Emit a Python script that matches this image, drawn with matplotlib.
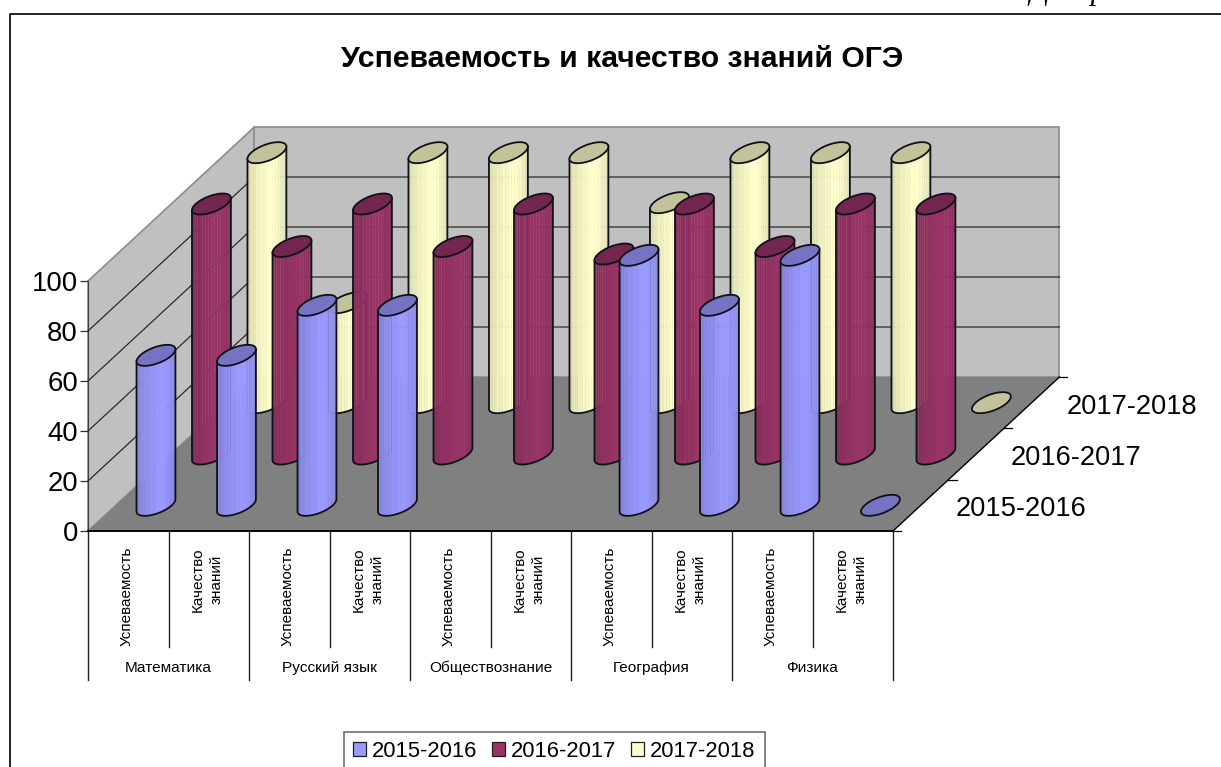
import numpy as np
import matplotlib
matplotlib.use("Agg")
import matplotlib.pyplot as plt
from matplotlib.lines import Line2D
from matplotlib.patches import Patch

plt.rcParams['font.family'] = ['Liberation Sans', 'DejaVu Sans']

# ---- data (None = no value in the sheet) ----
title = "Успеваемость и качество знаний ОГЭ"
subjects = ["Математика", "Русский язык", "Обществознание", "География", "Физика"]
measures = ["Успеваемость", "Качество\nзнаний"]
series_names = ["2015-2016", "2016-2017", "2017-2018"]
values_2015 = [60, 60, 80, 80, None, None, 100, 80, 100, 0]
values_2016 = [100, 83, 100, 83, 100, 80, 100, 83, 100, 100]
values_2017 = [100, 40, 100, 100, 100, 80, 100, 100, 100, 0]
y_ticks = [0, 20, 40, 60, 80, 100]

# ---- style ----
face = ["#9999FF", "#993366", "#FFFFCC"]
W, H = 1221, 767
L, R, T, B = 88, 893, 281, 531         # front plane of the 3-D box, in pixels
DX, DY = 0.689, 20.53                  # oblique shift per series, in data units
RA, RB = 0.196, 0.205                  # cylinder radii: along x, along depth
N = 10
SHADES = [.86, .86, .88, .88, .91, .91, .94, .94, .97, .97, 1, 1, 1, .98, .96, .93, .93, .90, .88, .86]

fig = plt.figure(figsize=(W / 100, H / 100), dpi=100, facecolor="white")
ax = fig.add_axes([L / W, (H - B) / H, (R - L) / W, (B - T) / H])
ax.set_xlim(0, N)
ax.set_ylim(0, 100)
ax.patch.set_visible(False)
for s in ["top", "right", "bottom"]:
    ax.spines[s].set_visible(False)
ax.spines["left"].set_color("#404040")
ax.set_xticks([])
ax.set_yticks(y_ticks)
ax.tick_params(axis="y", length=5.8, width=0.9, color="#303030", labelsize=19.8, pad=1.4)

BX, BY = 3 * DX, 3 * DY
K = dict(clip_on=False)

# walls and floor
ax.fill([0, BX, BX, 0], [0, BY, 100 + BY, 100], fc="#C0C0C0", ec="#8C8C8C", lw=1.2, zorder=1, **K)
ax.fill([BX, N + BX, N + BX, BX], [BY, BY, 100 + BY, 100 + BY], fc="#C0C0C0", ec="#8C8C8C", lw=1.2, zorder=1, **K)
ax.fill([0, BX, N + BX, N], [0, BY, BY, 0], fc="#808080", ec="none", zorder=2, **K)

# gridlines
for v in y_ticks[1:-1]:
    ax.plot([0, BX, N + BX], [v, v + BY, v + BY], color="#2A2A2A", lw=0.9, zorder=3, **K)

# floor edges and depth ticks
ax.plot([0, N], [0, 0], color="black", lw=1.4, zorder=4, **K)
ax.plot([N, N + BX], [0, BY], color="black", lw=1.0, zorder=4, **K)
for i in range(4):
    ax.plot([N + i * DX, N + i * DX + 0.1], [i * DY, i * DY], color="black", lw=0.9, zorder=4, **K)
for i, name in enumerate(series_names):
    ax.text(N + (i + 0.5) * DX + 0.43, (i + 0.5) * DY - 1.6, name, fontsize=19.6,
            ha="left", va="center", zorder=4, **K)


def cylinder(x, base, v, color, z):
    """One oblique cylinder, its base centred on (x, base)."""
    rgb = np.array(matplotlib.colors.to_rgb(color))
    px = lambda t: x + RA * np.cos(t) + RB * DX * np.sin(t)
    py = lambda t: RB * DY * np.sin(t)
    phi = np.arctan2(RB * DX, RA)
    if v > 0:
        n = len(SHADES)
        edges = np.linspace(phi + np.pi, phi + 2 * np.pi, n + 1)
        for k, sh in enumerate(SHADES):
            ts = np.linspace(edges[k], edges[k + 1], 5)
            xs = np.r_[px(ts), px(ts[::-1])]
            ys = np.r_[base + py(ts), base + v + py(ts[::-1])]
            ax.fill(xs, ys, fc=rgb * sh, ec=rgb * sh, lw=0.2, zorder=z, **K)
        ts = np.linspace(phi + np.pi, phi + 2 * np.pi, 60)
        xs = np.r_[px(ts[0]), px(ts), px(ts[-1])]
        ys = np.r_[base + v + py(ts[0]), base + py(ts), base + v + py(ts[-1])]
        ax.plot(xs, ys, color="#101018", lw=1.3, zorder=z + .1, **K)
    ts = np.linspace(0, 2 * np.pi, 80)
    ax.fill(px(ts), base + v + py(ts), fc=rgb * 0.76, ec="#101018", lw=1.3, zorder=z + .2, **K)


all_values = [values_2015, values_2016, values_2017]
for i in [2, 1, 0]:
    for j, v in enumerate(all_values[i]):
        if v is None:
            continue
        cylinder(j + 0.5 + (i + 0.5) * DX, (i + 0.5) * DY, v, face[i], 10 + (2 - i) * 20 + j)

# category axis: two-level labels
for j in range(N + 1):
    low = -59.6 if j % 2 == 0 else -46.4
    ax.plot([j, j], [0, low], color="#202020", lw=1.0, zorder=4, **K)
for j in range(N):
    ax.text(j + 0.5 - 0.02, -6.4, measures[j % 2], rotation=90, fontsize=11, ha="center", va="top",
            multialignment="center", linespacing=1.5, zorder=4, **K)
for k, name in enumerate(subjects):
    ax.text(2 * k + 1, -54.8, name, fontsize=11.1, ha="center", va="center", zorder=4, **K)

# title, outer border, clipped caption above the chart
fig.text(622.5 / W, 1 - 59 / H, title, fontsize=21.7, fontweight="bold", ha="center", va="center")
fig.add_artist(Line2D([9.5 / W, 9.5 / W, 1], [0, 1 - 13.5 / H, 1 - 13.5 / H], color="#101010", lw=1.3))
fig.text(1029 / W, 1 + 1.5 / H, "Диаграмма", fontsize=22, style="italic", family="Liberation Serif",
         ha="left", va="baseline")

# legend
handles = [Patch(fc=c, ec="#202020", lw=0.9) for c in face]
leg = fig.legend(handles, series_names, ncol=3, fontsize=15.8, frameon=True, fancybox=False,
                 edgecolor="#707070", framealpha=1, loc="lower left",
                 bbox_to_anchor=(344 / W, -4 / H), borderaxespad=0, borderpad=0.42,
                 handlelength=0.6, handleheight=0.6, handletextpad=0.27, columnspacing=0.66)
leg.get_frame().set_linewidth(1.2)

fig.savefig("out.png", dpi=100)
